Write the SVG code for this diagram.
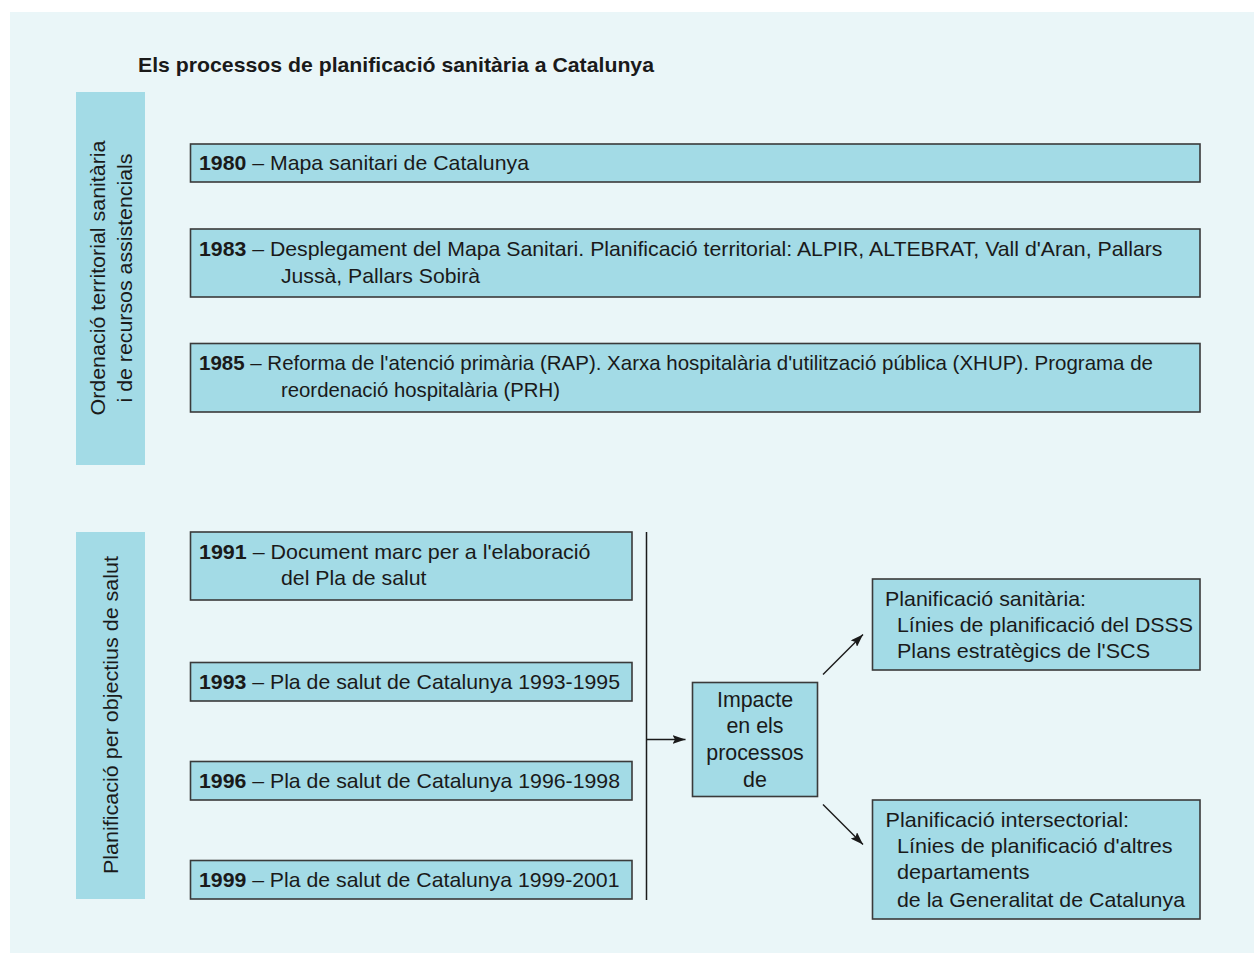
<svg xmlns="http://www.w3.org/2000/svg" width="1254" height="953" viewBox="0 0 1254 953">
  <defs>
    <style>
      .panel { fill: #EAF6F8; }
      .band { fill: #A3DBE6; }
      .box { fill: #A3DBE6; stroke: #3a3a3a; stroke-width: 1.6; }
      text { font-family: "Liberation Sans", Arial, Helvetica, sans-serif; font-size: 21px; fill: #1a1a1a; }
      .title { font-weight: bold; }
      .yr { font-weight: bold; }
      .mid { text-anchor: middle; }
      .conn { stroke: #1a1a1a; stroke-width: 1.5; fill: none; }
    </style>
    <marker id="arrow" viewBox="0 0 13 9" refX="13" refY="4.5" markerWidth="13" markerHeight="9" markerUnits="userSpaceOnUse" orient="auto">
      <path d="M0,0 L13,4.5 L0,9 L2.5,4.5 Z" fill="#1a1a1a"/>
    </marker>
  </defs>

  <!-- background panel -->
  <rect x="0" y="0" width="1254" height="953" fill="#ffffff"/>
  <rect class="panel" x="10" y="12" width="1244" height="941"/>

  <text class="title" x="138" y="72" textLength="516" lengthAdjust="spacingAndGlyphs">Els processos de planificació sanitària a Catalunya</text>

  <!-- side bands -->
  <g id="band-ordenacio">
    <rect class="band" x="76" y="92" width="69" height="373"/>
    <text class="mid" transform="translate(105,278) rotate(-90)" textLength="275" lengthAdjust="spacingAndGlyphs">Ordenació territorial sanitària</text>
    <text class="mid" transform="translate(131.5,278) rotate(-90)" textLength="249" lengthAdjust="spacingAndGlyphs">i de recursos assistencials</text>
  </g>
  <g id="band-objectius">
    <rect class="band" x="76" y="532" width="69" height="367"/>
    <text class="mid" transform="translate(117.5,715) rotate(-90)" textLength="318" lengthAdjust="spacingAndGlyphs">Planificació per objectius de salut</text>
  </g>

  <!-- territorial planning milestones -->
  <g id="n1980">
    <rect class="box" x="190.5" y="144" width="1009.5" height="38"/>
    <text x="199" y="170" textLength="330" lengthAdjust="spacingAndGlyphs"><tspan class="yr">1980</tspan> – Mapa sanitari de Catalunya</text>
  </g>
  <g id="n1983">
    <rect class="box" x="190.5" y="229" width="1009.5" height="68"/>
    <text x="199" y="256" textLength="963.5" lengthAdjust="spacingAndGlyphs"><tspan class="yr">1983</tspan> – Desplegament del Mapa Sanitari. Planificació territorial: ALPIR, ALTEBRAT, Vall d'Aran, Pallars</text>
    <text x="281" y="283" textLength="199" lengthAdjust="spacingAndGlyphs">Jussà, Pallars Sobirà</text>
  </g>
  <g id="n1985">
    <rect class="box" x="190.5" y="343.5" width="1009.5" height="68.5"/>
    <text x="199" y="370" textLength="954" lengthAdjust="spacingAndGlyphs"><tspan class="yr">1985</tspan> – Reforma de l'atenció primària (RAP). Xarxa hospitalària d'utilització pública (XHUP). Programa de</text>
    <text x="281" y="397" textLength="279" lengthAdjust="spacingAndGlyphs">reordenació hospitalària (PRH)</text>
  </g>

  <!-- health plans -->
  <g id="n1991">
    <rect class="box" x="190.5" y="532" width="441.5" height="68"/>
    <text x="199" y="558.5" textLength="391.5" lengthAdjust="spacingAndGlyphs"><tspan class="yr">1991</tspan> – Document marc per a l'elaboració</text>
    <text x="281" y="584.5" textLength="145.5" lengthAdjust="spacingAndGlyphs">del Pla de salut</text>
  </g>
  <g id="n1993">
    <rect class="box" x="190.5" y="662.5" width="441.5" height="38.5"/>
    <text x="199" y="688.5" textLength="421" lengthAdjust="spacingAndGlyphs"><tspan class="yr">1993</tspan> – Pla de salut de Catalunya 1993-1995</text>
  </g>
  <g id="n1996">
    <rect class="box" x="190.5" y="761.5" width="441.5" height="38.5"/>
    <text x="199" y="787.5" textLength="421" lengthAdjust="spacingAndGlyphs"><tspan class="yr">1996</tspan> – Pla de salut de Catalunya 1996-1998</text>
  </g>
  <g id="n1999">
    <rect class="box" x="190.5" y="860.5" width="441.5" height="38.5"/>
    <text x="199" y="886.5" textLength="420.5" lengthAdjust="spacingAndGlyphs"><tspan class="yr">1999</tspan> – Pla de salut de Catalunya 1999-2001</text>
  </g>

  <g id="impacte">
    <rect class="box" x="692.5" y="682.5" width="125" height="114"/>
    <text class="mid" x="755" y="706.7" style="font-size:21.4px">Impacte</text>
    <text class="mid" x="755" y="733.3" style="font-size:21.4px">en els</text>
    <text class="mid" x="755" y="760" style="font-size:21.4px">processos</text>
    <text class="mid" x="755" y="787" style="font-size:21.4px">de</text>
  </g>

  <g id="sanitaria">
    <rect class="box" x="872.5" y="579" width="327.5" height="91"/>
    <text x="885" y="605.5" textLength="201" lengthAdjust="spacingAndGlyphs">Planificació sanitària:</text>
    <text x="897" y="631.7" textLength="296" lengthAdjust="spacingAndGlyphs">Línies de planificació del DSSS</text>
    <text x="897" y="658.3" textLength="253" lengthAdjust="spacingAndGlyphs">Plans estratègics de l'SCS</text>
  </g>

  <g id="intersectorial">
    <rect class="box" x="872.5" y="800" width="327.5" height="119"/>
    <text x="885.5" y="826.7" textLength="243.5" lengthAdjust="spacingAndGlyphs">Planificació intersectorial:</text>
    <text x="897" y="853" textLength="275.5" lengthAdjust="spacingAndGlyphs">Línies de planificació d'altres</text>
    <text x="897" y="879.3" textLength="132.5" lengthAdjust="spacingAndGlyphs">departaments</text>
    <text x="897" y="906.5" textLength="288" lengthAdjust="spacingAndGlyphs">de la Generalitat de Catalunya</text>
  </g>

  <!-- connectors -->
  <g id="connectors">
    <line class="conn" x1="646.5" y1="532" x2="646.5" y2="900"/>
    <line class="conn" x1="646.5" y1="739.5" x2="685.5" y2="739.5" marker-end="url(#arrow)"/>
    <line class="conn" x1="823" y1="674.5" x2="863" y2="634.5" marker-end="url(#arrow)"/>
    <line class="conn" x1="823" y1="804.5" x2="863" y2="844.5" marker-end="url(#arrow)"/>
  </g>
</svg>
